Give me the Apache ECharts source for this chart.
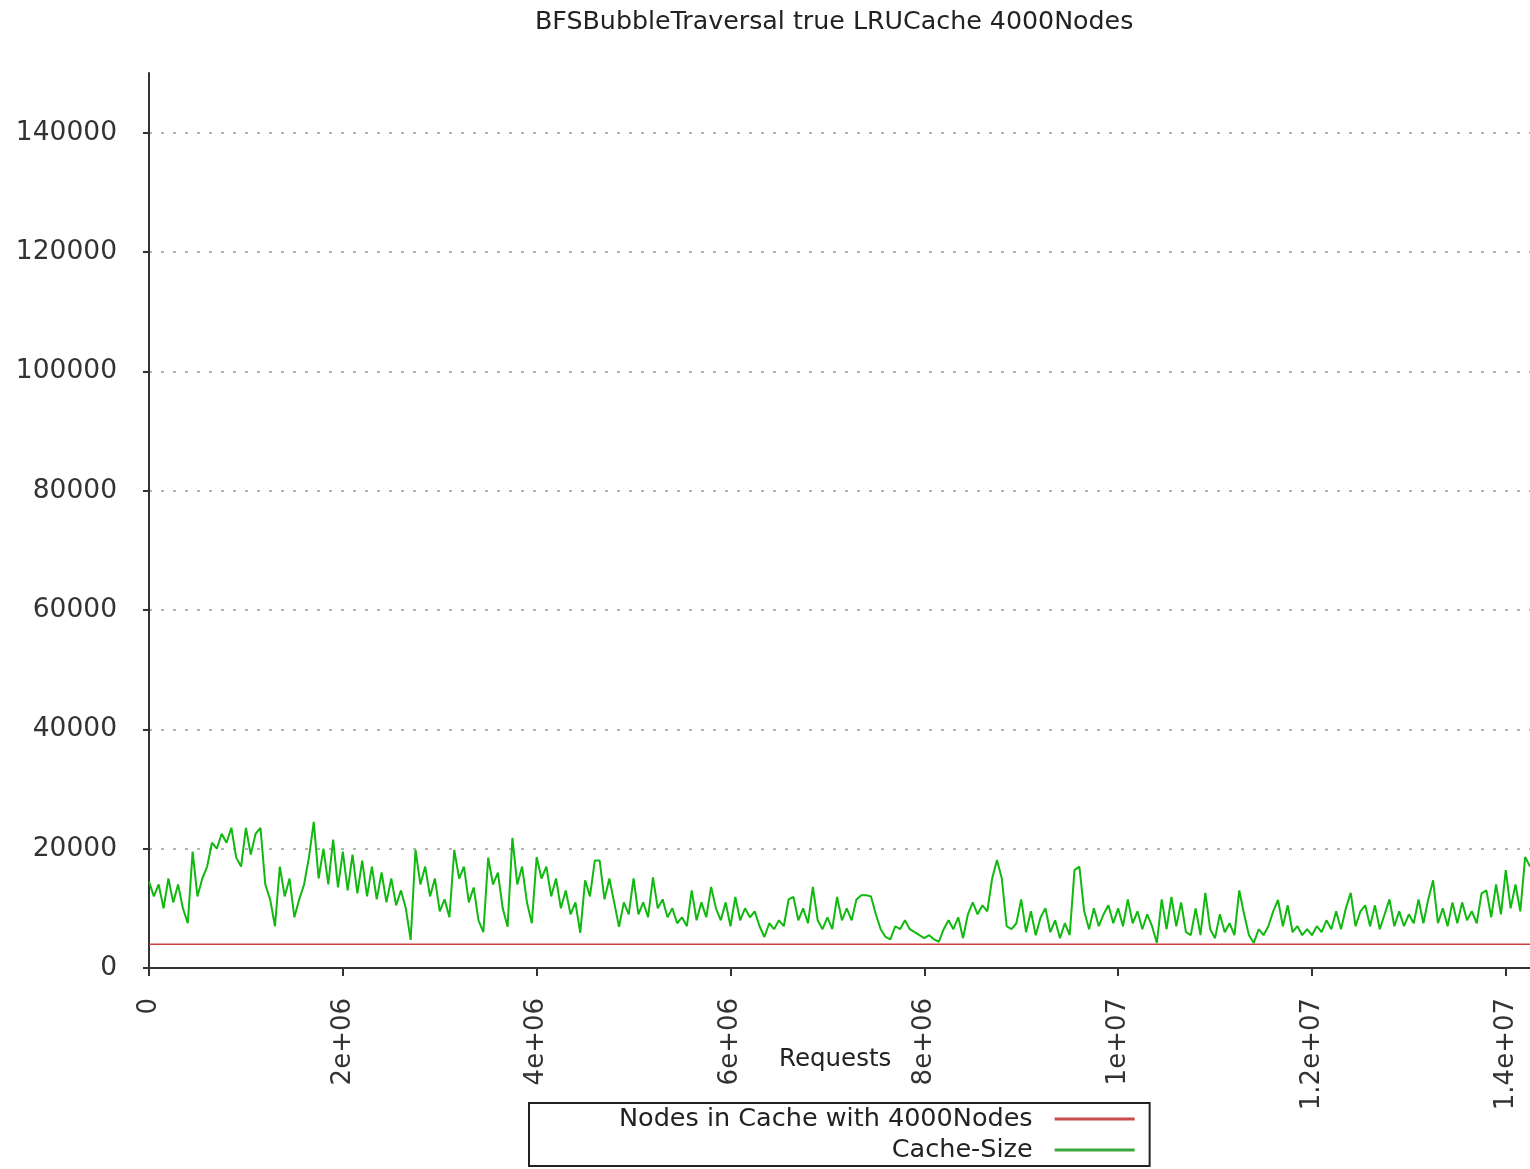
<!DOCTYPE html>
<html>
<head>
<meta charset="utf-8">
<script src="https://cdn.jsdelivr.net/npm/echarts@6/dist/echarts.min.js"></script>
<style>
html,body{margin:0;padding:0;background:#fff;}
#chart{width:1530px;height:1169px;}
</style>
</head>
<body>
<div id="chart"></div>
<script>
const titleText = 'BFSBubbleTraversal true LRUCache 4000Nodes';
const seriesNames = ['Nodes in Cache with 4000Nodes', 'Cache-Size'];
const xTicks = [0, 2e6, 4e6, 6e6, 8e6, 1e7, 1.2e7, 1.4e7];
const yTicks = [0, 20000, 40000, 60000, 80000, 100000, 120000, 140000];
const sampleStep = 50000; // requests between readings
const limitLine = [[0, 4000], [14250000, 4000]];
const cacheSize = [
14500,12000,14000,10000,15000,11000,14000,10000,7500,19500,
12000,15000,17000,21000,20000,22500,21000,23500,18500,17000,
23500,19000,22500,23500,14000,11500,7000,17000,12000,15000,
8500,11500,14000,18500,24500,15000,20000,14000,21500,13500,
19500,13000,19000,12500,18000,12000,17000,11500,16000,11000,
15000,10500,13000,10000,4700,19800,14000,17000,12000,15000,
9500,11500,8500,19800,15000,17000,11000,13500,8000,6000,
18500,14000,16000,10000,6900,21800,14000,17000,11000,7500,
18600,15000,17000,12000,15000,10000,13000,9000,11000,5900,
14700,12000,18000,18000,11500,15000,11000,6900,11000,9000,
15000,9000,11000,8500,15200,10000,11500,8500,10000,7500,
8500,7000,13000,8000,11000,8500,13600,10000,8000,11000,
7000,11900,8000,10000,8500,9500,7000,5200,7500,6500,
8000,7000,11500,11900,8000,10000,7500,13600,8000,6500,
8500,6500,11900,8000,10000,8000,11500,12200,12200,12000,
9000,6500,5200,4800,7000,6500,8000,6500,6000,5500,
5000,5500,4800,4400,6500,8000,6500,8500,5000,9000,
11000,9000,10500,9500,15000,18100,15000,7000,6500,7500,
11500,6000,9500,5500,8500,10000,6000,8000,5000,7500,
5500,16400,17000,9500,6500,10000,7000,9000,10500,7500,
10000,7000,11500,7500,9500,6500,9000,7000,4200,11500,
6500,11900,7000,11000,6000,5500,10000,5500,12600,6500,
5000,9000,6000,7500,5500,13000,9000,5500,4200,6500,
5500,7000,9500,11400,7000,10500,6000,7000,5500,6500,
5500,7000,6000,8000,6500,9500,6500,10000,12600,7000,
9500,10500,7000,10500,6500,9000,11500,7000,9500,7000,
9000,7500,11500,7500,11500,14700,7500,10000,7000,11000,
7500,11000,8000,9500,7500,12500,13000,8500,14000,9000,
16400,10000,14000,9500,18600,17000
];

function sciLabel(v) {
  if (v === 0) return '0';
  const e = Math.floor(Math.log10(v) + 1e-9);
  const m = Math.round(v / Math.pow(10, e) * 100) / 100;
  return m + 'e+' + (e < 10 ? '0' + e : e);
}

const greenData = cacheSize.map((v, i) => [i * sampleStep, v]);
const FONT = 'DejaVu Sans';

const chart = echarts.init(document.getElementById('chart'), null, {renderer: 'canvas'});
chart.setOption({
  animation: false,
  backgroundColor: '#fff',
  graphic: [
    {
      type: 'text', left: 535, top: 10,
      style: {text: titleText, fill: '#222', font: '25.3px "DejaVu Sans"'}
    },
    {
      type: 'text', left: 779, top: 1047,
      style: {text: 'Requests', fill: '#222', font: '24.5px "DejaVu Sans"'}
    }
  ],
  grid: {left: 149, right: 0, top: 73, bottom: 201, containLabel: false},
  legend: {
    orient: 'vertical',
    left: 529, top: 1103,
    align: 'right',
    padding: [3, 15, 3, 90],
    itemGap: 5,
    itemWidth: 80, itemHeight: 3,
    borderColor: '#222', borderWidth: 2,
    data: [
      {name: seriesNames[0], icon: 'rect', itemStyle: {color: '#c84a4a'}},
      {name: seriesNames[1], icon: 'rect', itemStyle: {color: '#3aa83a'}}
    ],
    formatter: n => '{a|' + n + '}',
    textStyle: {
      fontFamily: FONT, fontSize: 25.5, color: '#222',
      rich: {a: {padding: [0, 17, 0, 0], fontFamily: FONT, fontSize: 25.5, color: '#222'}}
    }
  },
  xAxis: {
    type: 'value', min: 0, max: 14250000, interval: 2000000,
    axisLine: {show: true, lineStyle: {color: '#333', width: 2}},
    axisTick: {show: true, length: 8, lineStyle: {color: '#333', width: 2}},
    axisLabel: {
      rotate: 90, margin: 30, showMaxLabel: false,
      fontFamily: FONT, fontSize: 26, color: '#333',
      formatter: v => xTicks.indexOf(v) >= 0 ? sciLabel(v) : ''
    },
    splitLine: {show: false}
  },
  yAxis: {
    type: 'value', min: 0, max: 150000, interval: 20000,
    axisLine: {show: true, lineStyle: {color: '#333', width: 2}},
    axisTick: {show: true, length: 6, lineStyle: {color: '#333', width: 2}},
    axisLabel: {
      margin: 32, showMaxLabel: false,
      fontFamily: FONT, fontSize: 26.5, color: '#333',
      formatter: v => yTicks.indexOf(v) >= 0 ? String(v) : ''
    },
    splitLine: {show: true, showMinLine: false, showMaxLine: false,
      lineStyle: {color: '#9a9a9a', width: 1.5, type: [3, 9]}}
  },
  series: [
    {
      name: seriesNames[0], type: 'line', data: limitLine,
      symbol: 'none', lineStyle: {color: '#d04040', width: 1.5},
      itemStyle: {color: '#c84a4a'}, z: 2
    },
    {
      name: seriesNames[1], type: 'line', data: greenData,
      symbol: 'none', lineStyle: {color: '#10b810', width: 2},
      itemStyle: {color: '#3aa83a'}, z: 3
    }
  ]
});
</script>
</body>
</html>
